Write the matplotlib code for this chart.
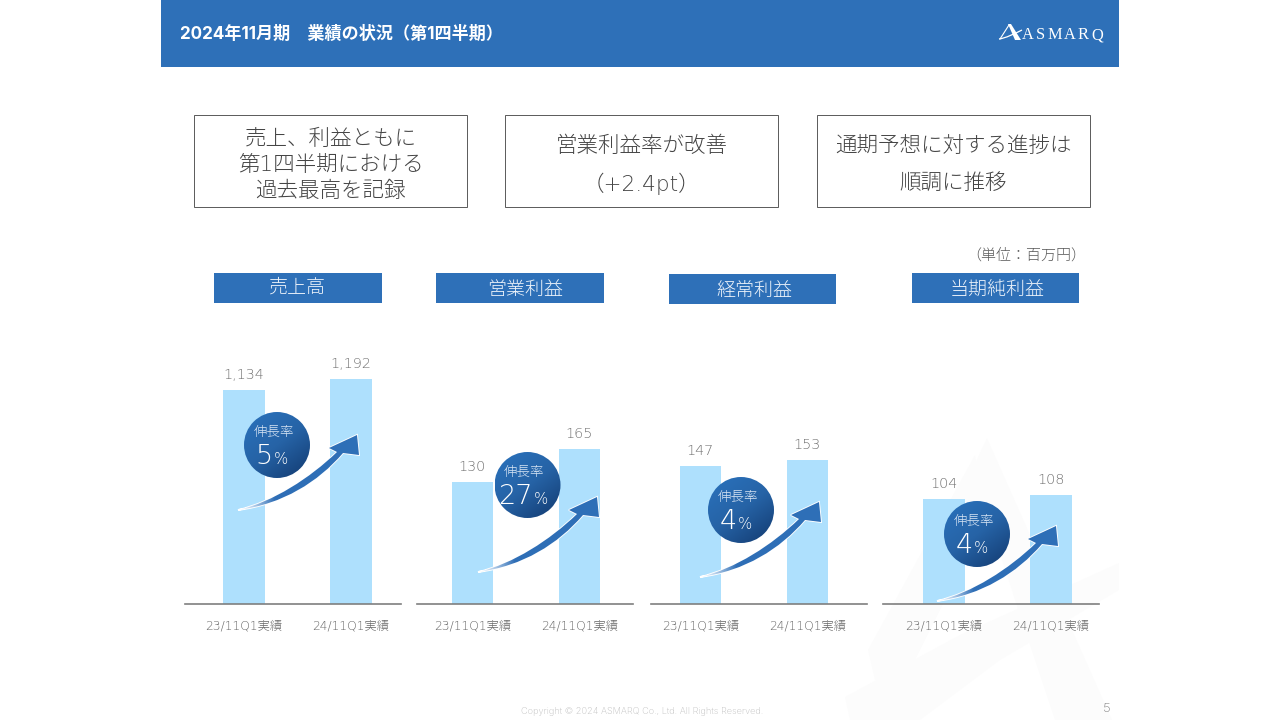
import numpy as np
import matplotlib
matplotlib.use('Agg')
import matplotlib.pyplot as plt
from matplotlib.patches import Rectangle, Circle, PathPatch, Polygon
from matplotlib.path import Path
from matplotlib.colors import LinearSegmentedColormap

# ---------- data ----------
periods = ['23/11Q1実績', '24/11Q1実績']
titles = ['売上高', '営業利益', '経常利益', '当期純利益']
sales = [1134, 1192]
op_profit = [130, 165]
ord_profit = [147, 153]
net_profit = [104, 108]
growth = ['5', '27', '4', '4']
value_labels = [['1,134', '1,192'], ['130', '165'], ['147', '153'], ['104', '108']]
callouts = [['売上、利益ともに', '第1四半期における', '過去最高を記録'],
            ['営業利益率が改善', '（+2.4pt）'],
            ['通期予想に対する進捗は', '順調に推移']]

# ---------- style ----------
MIX = ['Inter', 'Noto Sans CJK JP', 'DejaVu Sans']
WIDE = ['DejaVu Sans', 'Noto Sans CJK JP']
plt.rcParams['font.family'] = MIX
BLUE = '#2e70b8'
BAR = '#aee0fd'
GREY = '#7f7f7f'

fig = plt.figure(figsize=(12.8, 7.2), dpi=100, facecolor='white')


def pix_axes(z):
    a = fig.add_axes([0, 0, 1, 1], zorder=z)
    a.set_xlim(0, 1280)
    a.set_ylim(720, 0)
    a.axis('off')
    a.patch.set_alpha(0)
    return a


bg = pix_axes(0)
fg = pix_axes(5)

# watermark
WM = '#fcfcfc'
clip_slide = Rectangle((161, 0), 958, 720, transform=bg.transData)
wm_shapes = [
    [(987, 438), (1112, 720), (1055, 720), (972, 470)],
    [(975, 455), (868, 650), (875, 680), (900, 690), (925, 640), (985, 520)],
    [(845, 697), (960, 635), (1119, 563), (1119, 590), (1000, 660), (920, 720), (850, 720)],
]
for s in wm_shapes:
    w = Polygon(s, fc=WM, ec='none')
    bg.add_patch(w)
    w.set_clip_path(clip_slide)

# header
bg.add_patch(Rectangle((161, 0), 958, 67, fc=BLUE, ec='none'))
bg.text(180, 34, '2024年11月期　業績の状況（第1四半期）', color='white', fontsize=12.3,
        fontweight='bold', va='center', ha='left')
logo_letters = 'ASMARQ'
logo_x = [1022, 1036, 1047, 1064, 1078, 1091]
for ch, lx in zip(logo_letters, logo_x):
    bg.text(lx, 39, ch, color='white', fontsize=11.8, family='Liberation Serif', va='baseline', ha='left')
bg.add_patch(Polygon([(1008, 24), (1011, 24), (1021, 40), (1015, 40)], fc='white', ec='none'))
bg.plot([1009, 1000], [25, 39], color='white', lw=0.8)
bg.add_patch(PathPatch(Path([(999, 39), (1006, 38), (1014, 34), (1022, 30)],
                            [Path.MOVETO, Path.CURVE4, Path.CURVE4, Path.CURVE4]),
                       fc='none', ec='white', lw=0.9))

# callout boxes
box_x = [(194, 467), (505, 778), (817, 1090)]
box_ys = [[139, 165, 191], [146, 184], [146, 184]]
for (x0, x1), lines, ys in zip(box_x, callouts, box_ys):
    bg.add_patch(Rectangle((x0, 115), x1 - x0, 92, fc='white', ec='#595959', lw=0.7))
    for t, y in zip(lines, ys):
        bg.text((x0 + x1) / 2, y, t, fontsize=15.5, color='#454545', ha='center', va='center',
                fontweight='light', family=WIDE)

bg.text(1086, 255, '（単位：百万円）', fontsize=10.8, color='#595959', ha='right', va='center', fontweight='light')

# category headers
head_x = [(214, 382, 273), (436, 604, 273), (669, 836, 274), (912, 1079, 273)]
head_dy = [15, 17, 17, 17]
head_cx = [297, 525, 754.5, 997.5]
for (x0, x1, y0), t, dy, tx in zip(head_x, titles, head_dy, head_cx):
    bg.add_patch(Rectangle((x0, y0), x1 - x0, 30, fc=BLUE, ec='none'))
    bg.text(tx, y0 + dy, t, fontsize=13.7, color='#eef4fb',
            ha='center', va='center', fontweight='light')

bg.text(642, 711, 'Copyright © 2024 ASMARQ Co., Ltd. All Rights Reserved.', fontsize=6.6,
        color='#c0c0c0', ha='center', va='center', fontweight='light')
bg.text(1107, 709, '5', fontsize=9.5, color='#808080', ha='center', va='center', fontweight='light')

# panels: baseline extent, first bar centre and px-per-unit scale
series = [sales, op_profit, ord_profit, net_profit]
span = [(185, 401, 244), (417, 633, 472.5), (651, 867, 700.5), (883, 1099, 944)]
scales = [0.1887, 0.94, 0.94, 1.01]
BASE = 604
TOP = 340
STEP = 107
for vals, (xa, xb, c0), sc, labs in zip(series, span, scales, value_labels):
    ax = fig.add_axes([xa / 1280, 1 - BASE / 720, (xb - xa) / 1280, (BASE - TOP) / 720], zorder=2)
    ax.patch.set_alpha(0)
    ax.set_xlim((xa - c0) / STEP, (xb - c0) / STEP)
    ax.set_ylim(0, (BASE - TOP) / sc)
    rects = ax.bar([0, 1], vals, width=0.385, color=BAR, linewidth=0)
    for r, lab in zip(rects, labs):
        ax.annotate(lab, (r.get_x() + r.get_width() / 2, r.get_height()), xytext=(0, 15 / 1.39),
                    textcoords='offset points', ha='center', va='center', fontsize=10.4,
                    color='#707070', fontweight='light', family=WIDE)
    for s in ('top', 'left', 'right'):
        ax.spines[s].set_visible(False)
    ax.spines['bottom'].set_color(GREY)
    ax.spines['bottom'].set_linewidth(1.2)
    ax.set_yticks([])
    ax.set_xticks([0, 1], periods)
    ax.tick_params(axis='x', length=0, pad=11, labelsize=8.8, labelcolor='#666666')
    for l in ax.get_xticklabels():
        l.set_fontweight('light')
        l.set_family(WIDE)

# arrows
arrow_cmap = LinearSegmentedColormap.from_list('arr', [(0, '#ffffff'), (0.12, '#b7d0ea'), (0.3, '#2f6eb6'),
                                                       (1, '#2e70b8')])
tails = [(238, 510), (478, 572), (700, 577), (937, 601)]
verts = [(0, 0), (35, -8), (72, -32), (99, -58), (91, -62), (119, -75), (121, -55), (105, -57),
         (80, -28), (45, -6), (0, 0), (0, 0)]
codes = [Path.MOVETO, Path.CURVE4, Path.CURVE4, Path.CURVE4, Path.LINETO, Path.LINETO, Path.LINETO,
         Path.LINETO, Path.CURVE4, Path.CURVE4, Path.CURVE4, Path.CLOSEPOLY]
grad = np.linspace(0, 1, 128).reshape(1, -1)
for tx, ty in tails:
    p = Path([(tx + a, ty + b) for a, b in verts], codes)
    fg.add_patch(PathPatch(p, fc='none', ec='white', lw=1.3, zorder=3))
    im = fg.imshow(grad, extent=(tx, tx + 122, ty + 2, ty - 76), cmap=arrow_cmap, aspect='auto', zorder=4)
    im.set_clip_path(PathPatch(p, transform=fg.transData))

# growth badges
circ_cmap = LinearSegmentedColormap.from_list('cir', ['#2a72bd', '#2663a6', '#123a70'])
centers = [(277, 445), (527.5, 485), (741, 510), (977, 534)]
yy, xx = np.mgrid[0:1:100j, 0:1:100j]
shade = (xx * 0.6 + yy * 0.8)
shade = shade / shade.max()
for (cx, cy), g in zip(centers, growth):
    im = fg.imshow(shade, extent=(cx - 33, cx + 33, cy + 33, cy - 33), cmap=circ_cmap, aspect='auto', zorder=6)
    im.set_clip_path(Circle((cx, cy), 33, transform=fg.transData))
    fg.text(cx - 3, cy - 13.5, '伸長率', fontsize=9.7, color='#dbe7f5', ha='center', va='center', zorder=7,
            fontweight='light')
    off = 5 if len(g) > 1 else -4
    fg.text(cx + off, cy + 19, g, fontsize=19.5, color='white', ha='right', va='baseline',
            fontweight='light', zorder=7, family=WIDE)
    fg.text(cx + off + 1, cy + 19, '%', fontsize=10.8, color='white', ha='left', va='baseline',
            fontweight='light', zorder=7, family=WIDE)

fg.set_xlim(0, 1280)
fg.set_ylim(720, 0)
fig.savefig('out.png', dpi=100)
